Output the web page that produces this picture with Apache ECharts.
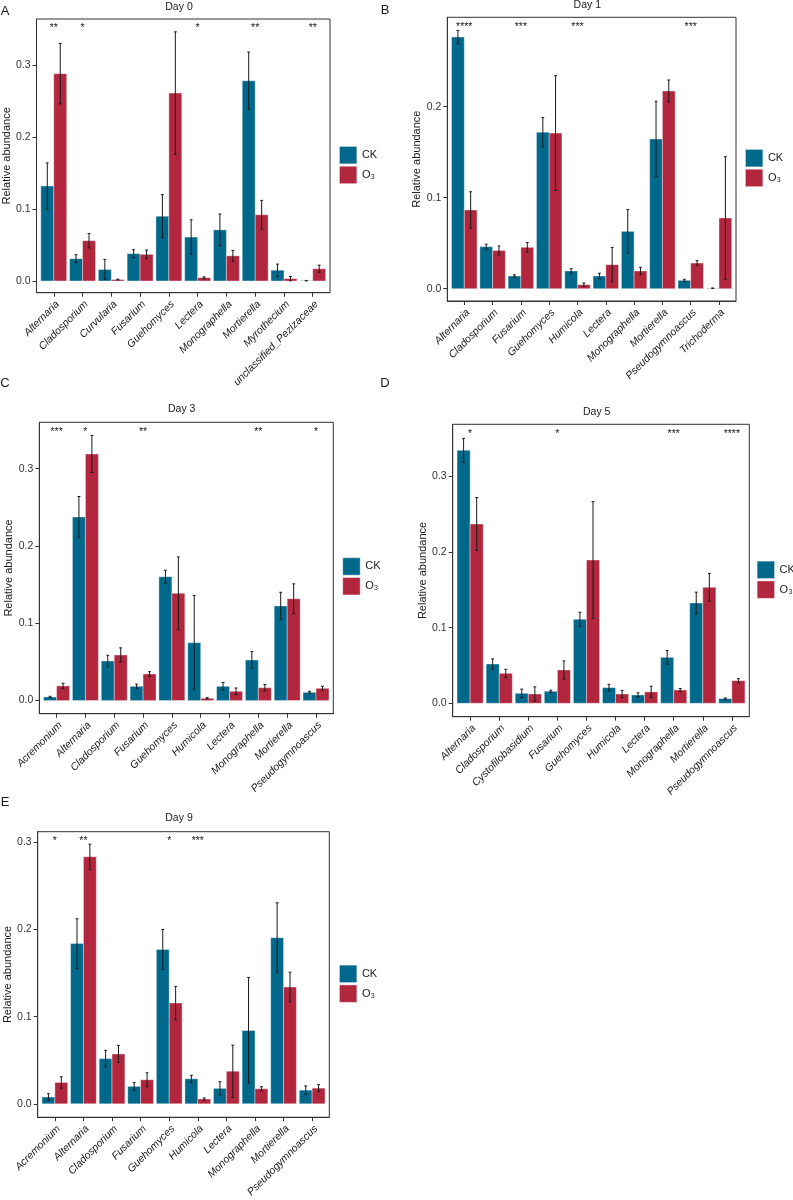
<!DOCTYPE html>
<html>
<head>
<meta charset="utf-8">
<script src="https://cdn.jsdelivr.net/npm/echarts@6/dist/echarts.min.js"></script>
<style>html,body{margin:0;padding:0;background:#fff}#c{width:793px;height:1200px}</style>
</head>
<body>
<div id="c"></div>
<script>
// ---------------- DATA ----------------
const groups = ['CK', 'O₃'];
const yAxisTitle = 'Relative abundance';

// Panel A – Day 0
const titleA = 'Day 0';
const catsA = ['Alternaria','Cladosporium','Curvularia','Fusarium','Guehomyces','Lectera','Monographella','Mortierella','Myrothecium','unclassified_Pezizaceae'];
const ckA    = [0.132, 0.031, 0.016, 0.038, 0.090, 0.061, 0.071, 0.278, 0.015, 0.0005];
const ckErrA = [0.032, 0.0055, 0.014, 0.0055, 0.030, 0.024, 0.022, 0.040, 0.0085, 0.0003];
const o3A    = [0.288, 0.056, 0.002, 0.037, 0.261, 0.0046, 0.035, 0.092, 0.0033, 0.017];
const o3ErrA = [0.042, 0.010, 0.0005, 0.006, 0.085, 0.0012, 0.0075, 0.020, 0.003, 0.005];
const sigA   = ['**','*','','','','*','','**','','**'];
const yTicksA = [0, 0.1, 0.2, 0.3];

// Panel B – Day 1
const titleB = 'Day 1';
const catsB = ['Alternaria','Cladosporium','Fusarium','Guehomyces','Humicola','Lectera','Monographella','Mortierella','Pseudogymnoascus','Trichoderma'];
const ckB    = [0.2765, 0.0462, 0.014, 0.172, 0.0195, 0.014, 0.063, 0.1645, 0.0092, 0.0005];
const ckErrB = [0.0072, 0.0027, 0.0013, 0.016, 0.0025, 0.003, 0.024, 0.0415, 0.0011, 0.0003];
const o3B    = [0.0865, 0.042, 0.0455, 0.171, 0.0044, 0.0264, 0.0195, 0.2173, 0.0282, 0.0777];
const o3ErrB = [0.020, 0.005, 0.0053, 0.063, 0.0019, 0.019, 0.004, 0.012, 0.0026, 0.0674];
const sigB   = ['****','','***','','***','','','','***',''];
const yTicksB = [0, 0.1, 0.2];

// Panel C – Day 3
const titleC = 'Day 3';
const catsC = ['Acremonium','Alternaria','Cladosporium','Fusarium','Guehomyces','Humicola','Lectera','Monographella','Mortierella','Pseudogymnoascus'];
const ckC    = [0.0047, 0.2375, 0.0512, 0.0185, 0.1603, 0.0749, 0.0185, 0.0525, 0.1224, 0.0107];
const ckErrC = [0.0009, 0.0265, 0.0074, 0.0028, 0.0083, 0.061, 0.005, 0.0108, 0.0177, 0.0013];
const o3C    = [0.019, 0.319, 0.059, 0.0344, 0.1388, 0.003, 0.012, 0.0167, 0.1318, 0.0159];
const o3ErrC = [0.0035, 0.024, 0.0092, 0.003, 0.047, 0.0008, 0.0043, 0.0041, 0.0192, 0.0026];
const sigC   = ['***','*','','**','','','','**','','*'];
const yTicksC = [0, 0.1, 0.2, 0.3];

// Panel D – Day 5
const titleD = 'Day 5';
const catsD = ['Alternaria','Cladosporium','Cystofilobasidium','Fusarium','Guehomyces','Humicola','Lectera','Monographella','Mortierella','Pseudogymnoascus'];
const ckD    = [0.3342, 0.0519, 0.0132, 0.0159, 0.111, 0.0207, 0.011, 0.0607, 0.1325, 0.0062];
const ckErrD = [0.0158, 0.0068, 0.0055, 0.0014, 0.0093, 0.0044, 0.0028, 0.009, 0.0143, 0.0009];
const o3D    = [0.2369, 0.0396, 0.0123, 0.044, 0.1893, 0.0123, 0.015, 0.0176, 0.1532, 0.0299];
const o3ErrD = [0.035, 0.0053, 0.0095, 0.012, 0.0771, 0.0047, 0.0075, 0.002, 0.0184, 0.0027];
const sigD   = ['*','','','*','','','','***','','****'];
const yTicksD = [0, 0.1, 0.2, 0.3];

// Panel E – Day 9
const titleE = 'Day 9';
const catsE = ['Acremonium','Alternaria','Cladosporium','Fusarium','Guehomyces','Humicola','Lectera','Monographella','Mortierella','Pseudogymnoascus'];
const ckE    = [0.0078, 0.1838, 0.0519, 0.020, 0.177, 0.0287, 0.0177, 0.0842, 0.1906, 0.0157];
const ckErrE = [0.0038, 0.0285, 0.0095, 0.0043, 0.023, 0.004, 0.0077, 0.0608, 0.040, 0.0048];
const o3E    = [0.0245, 0.2834, 0.0572, 0.0276, 0.1157, 0.0055, 0.0374, 0.0173, 0.134, 0.018];
const o3ErrE = [0.0065, 0.0145, 0.0099, 0.008, 0.019, 0.0012, 0.0299, 0.0023, 0.017, 0.004];
const sigE   = ['*','**','','','*','***','','','',''];
const yTicksE = [0, 0.1, 0.2, 0.3];

// ---------------- LAYOUT / STYLE ----------------
const FONT = '"Liberation Sans", Arial, Helvetica, sans-serif';
const COLORS = ['#00688B', '#B2263E'];
const TXT = '#1a1a1a';

const panels = [
  {letter:'A', title:titleA, cats:catsA, ck:ckA, ckErr:ckErrA, o3:o3A, o3Err:o3ErrA, sig:sigA, yTicks:yTicksA,
   grid:[36,19,294,273.7], y:[-0.01625,0.3639], titlePos:[179,7], letterPos:[5,11.5], legendPos:[339,146]},
  {letter:'B', title:titleB, cats:catsB, ck:ckB, ckErr:ckErrB, o3:o3B, o3Err:o3ErrB, sig:sigB, yTicks:yTicksB,
   grid:[447.3,17.3,288.7,283.7], y:[-0.0135,0.2982], titlePos:[587.3,5], letterPos:[385,10.5], legendPos:[745,149]},
  {letter:'C', title:titleC, cats:catsC, ck:ckC, ckErr:ckErrC, o3:o3C, o3Err:o3ErrC, sig:sigC, yTicks:yTicksC,
   grid:[39.3,422.3,294,291.4], y:[-0.01695,0.360], titlePos:[181.7,409.5], letterPos:[5,383], legendPos:[342.3,557.3]},
  {letter:'D', title:titleD, cats:catsD, ck:ckD, ckErr:ckErrD, o3:o3D, o3Err:o3ErrD, sig:sigD, yTicks:yTicksD,
   grid:[452.7,424.3,296.6,292.4], y:[-0.0177,0.3686], titlePos:[596.7,412.5], letterPos:[385,383], legendPos:[756.7,560.7]},
  {letter:'E', title:titleE, cats:catsE, ck:ckE, ckErr:ckErrE, o3:o3E, o3Err:o3ErrE, sig:sigE, yTicks:yTicksE,
   grid:[37.7,831.7,291.6,287.3], y:[-0.0154,0.3122], titlePos:[179,818.5], letterPos:[5,802], legendPos:[339,964.7]}
];

const HALF = 0.225;   // half bar width (dodge 0.9, two groups)
const CAP = 0.05;     // half cap width

function barRenderer(side) {
  return function (params, api) {
    const x = api.value(0) + side * HALF, v = api.value(1), e = api.value(2);
    const tl = api.coord([x - HALF, v]);
    const br = api.coord([x + HALF, 0]);
    const top = api.coord([x, v + e]);
    const bot = api.coord([x, Math.max(v - e, 0)]);
    const cl = api.coord([x - CAP, v])[0], cr = api.coord([x + CAP, v])[0];
    const ls = {stroke: TXT, lineWidth: 1};
    return {type: 'group', children: [
      {type: 'rect', shape: {x: tl[0], y: tl[1], width: br[0] - tl[0], height: br[1] - tl[1]},
       style: {fill: api.visual('color'), stroke: 'rgba(255,255,255,0.55)', lineWidth: 0.7}},
      {type: 'line', shape: {x1: top[0], y1: top[1], x2: bot[0], y2: bot[1]}, style: ls},
      {type: 'line', shape: {x1: cl, y1: top[1], x2: cr, y2: top[1]}, style: ls},
      {type: 'line', shape: {x1: cl, y1: bot[1], x2: cr, y2: bot[1]}, style: ls}
    ]};
  };
}

function starRenderer(p) {
  return function (params, api) {
    const pos = api.coord([api.value(0), p.y[1]]);
    return {type: 'text', style: {text: p.sig[api.value(1)], x: pos[0], y: pos[1] + 4,
      textAlign: 'center', textVerticalAlign: 'top', fontSize: 10.5, fontFamily: FONT, fill: TXT}};
  };
}

const option = {
  animation: false,
  backgroundColor: '#fff',
  textStyle: {fontFamily: FONT},
  grid: [], xAxis: [], yAxis: [], series: [], legend: [], graphic: []
};

panels.forEach((p, i) => {
  const [gl, gt, gw, gh] = p.grid;
  const xVals = p.cats.map((c, j) => j + 1);
  option.grid.push({left: gl, top: gt, width: gw, height: gh, show: true, borderColor: '#333', borderWidth: 1, containLabel: false});
  option.xAxis.push({
    type: 'value', gridIndex: i, min: 0.4, max: p.cats.length + 0.6,
    splitLine: {show: false},
    axisLine: {show: true, onZero: false, lineStyle: {color: '#333', width: 1}},
    axisTick: {show: true, customValues: xVals, length: 4, lineStyle: {color: '#333'}},
    axisLabel: {show: true, customValues: xVals, formatter: v => p.cats[Math.round(v) - 1] || '',
      rotate: 45, fontStyle: 'italic', fontSize: 10.5, color: TXT, fontFamily: FONT,
      margin: 6, align: 'right', verticalAlign: 'top', hideOverlap: false}
  });
  option.yAxis.push({
    type: 'value', gridIndex: i, min: p.y[0], max: p.y[1],
    splitLine: {show: false},
    axisLine: {show: true, onZero: false, lineStyle: {color: '#333', width: 1}},
    axisTick: {show: true, customValues: p.yTicks, length: 4, lineStyle: {color: '#333'}},
    axisLabel: {show: true, customValues: p.yTicks, formatter: v => v.toFixed(1), fontSize: 10.5, color: '#333', fontFamily: FONT, margin: 6},
    name: yAxisTitle, nameLocation: 'middle', nameGap: 22,
    nameTextStyle: {fontSize: 11, color: TXT, fontFamily: FONT}
  });
  option.series.push({
    type: 'custom', name: groups[0], xAxisIndex: i, yAxisIndex: i,
    itemStyle: {color: COLORS[0]}, renderItem: barRenderer(-1),
    data: p.ck.map((v, j) => [j + 1, v, p.ckErr[j]]), encode: {x: 0, y: 1}
  });
  option.series.push({
    type: 'custom', name: groups[1], xAxisIndex: i, yAxisIndex: i,
    itemStyle: {color: COLORS[1]}, renderItem: barRenderer(1),
    data: p.o3.map((v, j) => [j + 1, v, p.o3Err[j]]), encode: {x: 0, y: 1}
  });
  option.series.push({
    type: 'custom', name: 'sig' + p.letter, xAxisIndex: i, yAxisIndex: i, silent: true,
    renderItem: starRenderer(p),
    data: p.sig.map((s, j) => [j + 1, j]).filter(d => p.sig[d[1]] !== ''), encode: {x: 0}
  });
  option.legend.push({
    left: p.legendPos[0], top: p.legendPos[1], orient: 'vertical', padding: 0,
    itemWidth: 17.5, itemHeight: 17.5, itemGap: 1.5, icon: 'rect', selectedMode: false,
    textStyle: {fontSize: 11, color: TXT, fontFamily: FONT},
    data: groups.map((g, k) => ({name: g, itemStyle: {color: COLORS[k], borderColor: 'rgba(255,255,255,0.6)', borderWidth: 0.8}}))
  });
  option.graphic.push({type: 'text', x: p.titlePos[0], y: p.titlePos[1],
    style: {text: p.title, textAlign: 'center', textVerticalAlign: 'middle', fontSize: 10.5, fontFamily: FONT, fill: TXT}});
  option.graphic.push({type: 'text', x: p.letterPos[0], y: p.letterPos[1],
    style: {text: p.letter, textAlign: 'center', textVerticalAlign: 'middle', fontSize: 13, fontFamily: FONT, fill: TXT}});
});

const chart = echarts.init(document.getElementById('c'), null, {renderer: 'canvas', width: 793, height: 1200});
chart.setOption(option);
</script>
</body>
</html>
